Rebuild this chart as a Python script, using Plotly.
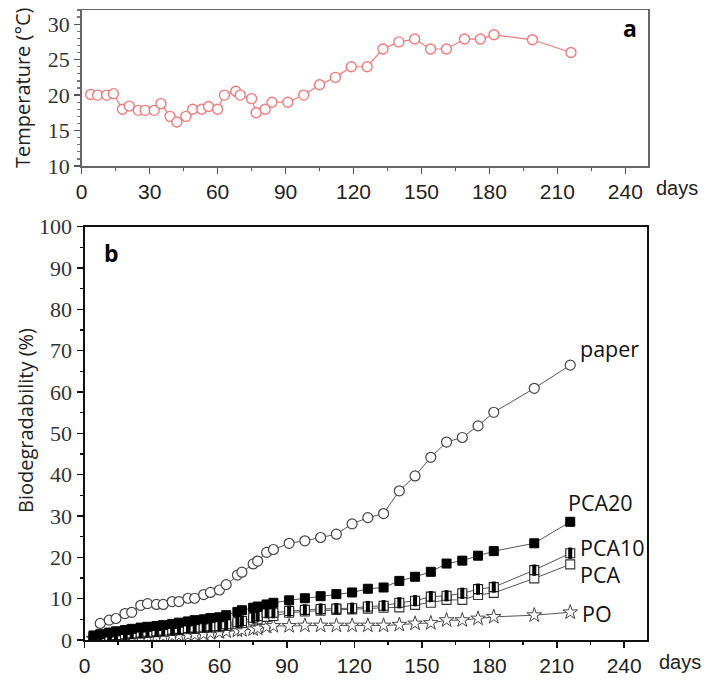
import plotly.graph_objects as go

# ---------------- data ----------------
temp_days = [4, 7, 11, 14, 18, 21, 25, 28, 32, 35, 39, 42, 46, 49, 53, 56, 60, 63, 68, 70,
             75, 77, 81, 84, 91, 98, 105, 112, 119, 126, 133, 140, 147, 154, 161, 169, 176, 182, 199, 216]
temperature = [20.1, 20.0, 20.0, 20.2, 18.0, 18.45, 17.85, 17.85, 17.85, 18.8, 17.0, 16.2, 17.0, 18.0,
               18.0, 18.4, 18.0, 20.0, 20.55, 20.0, 19.5, 17.5, 18.0, 19.0, 19.0, 20.0, 21.45, 22.5,
               24.0, 24.0, 26.5, 27.5, 27.9, 26.5, 26.5, 27.9, 27.9, 28.5, 27.8, 26.0]

paper_days = [7, 11, 14, 18, 21, 25, 28, 32, 35, 39, 42, 46, 49, 53, 56, 60, 63, 68, 70, 75, 77,
              81, 84, 91, 98, 105, 112, 119, 126, 133, 140, 147, 154, 161, 168, 175, 182, 200, 216]
paper = [4.0, 4.8, 5.2, 6.4, 6.7, 8.4, 8.8, 8.6, 8.6, 9.3, 9.3, 10.1, 10.1, 11.0, 11.5, 12.1, 13.4,
         15.7, 16.4, 18.4, 19.1, 21.2, 21.9, 23.4, 24.0, 24.8, 25.6, 28.1, 29.6, 30.6, 36.1, 39.7,
         44.2, 47.9, 49.0, 51.8, 55.1, 60.9, 66.5]

bio_days = [4, 7, 11, 14, 18, 21, 25, 28, 32, 35, 39, 42, 46, 49, 53, 56, 60, 63, 68, 70, 75, 77,
            81, 84, 91, 98, 105, 112, 119, 126, 133, 140, 147, 154, 161, 168, 175, 182, 200, 216]
pca20 = [1.1, 1.4, 1.8, 2.1, 2.4, 2.7, 3.0, 3.2, 3.4, 3.6, 3.9, 4.2, 4.5, 4.8, 5.0, 5.3, 5.5, 6.0,
         6.8, 7.2, 7.8, 8.1, 8.6, 9.0, 9.6, 10.1, 10.6, 11.1, 11.5, 12.4, 12.7, 14.3, 15.3, 16.5,
         18.5, 19.2, 20.4, 21.5, 23.4, 28.6]
pca10 = [0.6, 0.8, 1.0, 1.2, 1.4, 1.6, 1.8, 2.0, 2.1, 2.3, 2.5, 2.7, 2.9, 3.0, 3.2, 3.3, 3.4, 3.8,
         4.3, 4.6, 5.4, 5.8, 6.6, 6.6, 7.0, 7.3, 7.5, 7.6, 7.7, 8.1, 8.3, 9.0, 9.5, 10.5, 10.7,
         11.3, 12.3, 12.8, 16.9, 21.0]
pca = [0.5, 0.7, 0.9, 1.0, 1.2, 1.4, 1.6, 1.7, 1.9, 2.0, 2.2, 2.4, 2.6, 2.7, 2.9, 3.0, 3.1, 3.4,
       3.8, 4.1, 4.7, 5.0, 5.6, 5.8, 6.6, 6.9, 7.1, 7.3, 7.4, 7.6, 7.8, 7.9, 8.5, 9.0, 9.7, 9.7,
       10.9, 11.4, 14.9, 18.3]
po = [0.3, 0.4, 0.4, 0.5, 0.5, 0.6, 0.7, 0.7, 0.8, 0.9, 1.0, 1.1, 1.2, 1.3, 1.5, 1.7, 1.9, 2.1,
      2.3, 2.4, 2.6, 2.8, 3.2, 3.4, 3.4, 3.5, 3.5, 3.5, 3.5, 3.5, 3.5, 3.7, 4.0, 4.1, 4.8, 4.8,
      5.2, 5.6, 6.0, 6.7]

x_ticks = [0, 30, 60, 90, 120, 150, 180, 210, 240]
temp_ticks = [10, 15, 20, 25, 30]
bio_ticks = [0, 10, 20, 30, 40, 50, 60, 70, 80, 90, 100]

# ---------------- figure ----------------
W, H = 709, 683
fig = go.Figure()

RED = "#f07a7a"
LINE_GRAY = "#555555"

fig.add_trace(go.Scatter(
    x=temp_days, y=temperature, mode="lines+markers", xaxis="x", yaxis="y",
    line=dict(color=RED, width=1.2),
    marker=dict(symbol="circle", size=10, color="white", line=dict(color=RED, width=1.4)),
    showlegend=False))

common_line = dict(color=LINE_GRAY, width=1)
fig.add_trace(go.Scatter(
    x=paper_days, y=paper, mode="lines+markers", xaxis="x2", yaxis="y2",
    line=common_line,
    marker=dict(symbol="circle", size=10, color="white", line=dict(color="#444444", width=1.2)),
    showlegend=False))
fig.add_trace(go.Scatter(
    x=bio_days, y=po, mode="lines+markers", xaxis="x2", yaxis="y2",
    line=common_line,
    marker=dict(symbol="star", size=11, color="white", line=dict(color="#444444", width=1)),
    showlegend=False))
fig.add_trace(go.Scatter(
    x=bio_days, y=pca, mode="lines+markers", xaxis="x2", yaxis="y2",
    line=common_line,
    marker=dict(symbol="square", size=9, color="white", line=dict(color="#333333", width=1.1)),
    showlegend=False))
fig.add_trace(go.Scatter(
    x=bio_days, y=pca10, mode="lines+markers", xaxis="x2", yaxis="y2",
    line=common_line,
    marker=dict(symbol="square", size=9, color="white", line=dict(color="#222222", width=1.1)),
    showlegend=False))
fig.add_trace(go.Scatter(
    x=bio_days, y=pca10, mode="markers", xaxis="x2", yaxis="y2",
    marker=dict(symbol="line-ns", size=8, color="black", line=dict(color="black", width=4)),
    showlegend=False))
fig.add_trace(go.Scatter(
    x=bio_days, y=pca20, mode="lines+markers", xaxis="x2", yaxis="y2",
    line=common_line,
    marker=dict(symbol="square", size=9, color="black", line=dict(color="black", width=1)),
    showlegend=False))

sans_tick = dict(family="Liberation Sans", size=21, color="#222222")
serif_tick = dict(family="Liberation Serif", size=22, color="#333333")

def px_x(p):
    return p / W

def px_y(p):
    return 1 - p / H

fig.update_layout(
    template="none",
    width=W, height=H, margin=dict(l=0, r=0, t=0, b=0, pad=0), autosize=False,
    paper_bgcolor="white", plot_bgcolor="white",
    xaxis=dict(domain=[px_x(81.7), px_x(648)], range=[0, 250], anchor="y", automargin=False,
               tickvals=x_ticks, ticks="outside", ticklen=6, tickwidth=1.2, tickcolor="#555",
               minor=dict(dtick=15, tick0=0, ticks="outside", ticklen=3, tickcolor="#555"),
               showline=True, linecolor="#666", linewidth=1.5, mirror=True,
               showgrid=False, zeroline=False, tickfont=sans_tick),
    yaxis=dict(domain=[px_y(166), px_y(10)], range=[10, 32], anchor="x", automargin=False,
               tickvals=temp_ticks, ticks="outside", ticklen=6, tickwidth=1.2, tickcolor="#555",
               minor=dict(dtick=1, tick0=10, ticks="outside", ticklen=3, tickcolor="#777"),
               showline=True, linecolor="#666", linewidth=1.5, mirror=True,
               showgrid=False, zeroline=False, tickfont=serif_tick),
    xaxis2=dict(domain=[px_x(84.5), px_x(646.7)], range=[0, 250], anchor="y2", automargin=False,
                tickvals=x_ticks, ticks="outside", ticklen=6, tickwidth=1.5, tickcolor="#111",
                minor=dict(dtick=15, tick0=0, ticks="outside", ticklen=3, tickcolor="#111"),
                showline=True, linecolor="#111", linewidth=2, mirror=True,
                showgrid=False, zeroline=False, tickfont=sans_tick),
    yaxis2=dict(domain=[px_y(640), px_y(226.7)], range=[0, 100], anchor="x2", automargin=False,
                tickvals=bio_ticks, ticks="outside", ticklen=6, tickwidth=1.5, tickcolor="#111",
                minor=dict(dtick=5, tick0=0, ticks="outside", ticklen=3, tickcolor="#111"),
                showline=True, linecolor="#111", linewidth=2, mirror=True,
                showgrid=False, zeroline=False, tickfont=serif_tick),
)

title_font = dict(family="Open Sans", size=20, color="#222222")
label_font = dict(family="Open Sans", size=21.5, color="#111111")
days_font = dict(family="Liberation Sans", size=20, color="#222222")

def ann(text, x, y, xref="paper", yref="paper", xanchor="center", font=None, angle=0):
    return dict(text=text, x=x, y=y, xref=xref, yref=yref, xanchor=xanchor, yanchor="middle",
                showarrow=False, font=font, textangle=angle)

annotations = [
    ann("Temperature (°C)", px_x(22), px_y(88), font=title_font, angle=-90),
    ann("Biodegradability (%)", px_x(25), px_y(421), font=title_font, angle=-90),
    ann("<b>a</b>", px_x(630), px_y(28), font=dict(family="Open Sans", size=23, color="black")),
    ann("<b>b</b>", px_x(111), px_y(253), font=dict(family="Open Sans", size=23, color="black")),
    ann("days", px_x(677), px_y(188), font=days_font),
    ann("days", px_x(680), px_y(662), font=days_font),
    ann("paper", 219.3, 70.6, "x2", "y2", "left", label_font),
    ann("PCA20", 214, 33.2, "x2", "y2", "left", label_font),
    ann("PCA10", 219.5, 22.4, "x2", "y2", "left", label_font),
    ann("PCA", 219.5, 15.8, "x2", "y2", "left", label_font),
    ann("PO", 220.2, 6.5, "x2", "y2", "left", label_font),
]
fig.update_layout(annotations=annotations)

fig.write_html("out.html", config={"displayModeBar": False, "staticPlot": True},
               post_script="document.body.style.margin='0px';document.body.style.overflow='hidden';")
